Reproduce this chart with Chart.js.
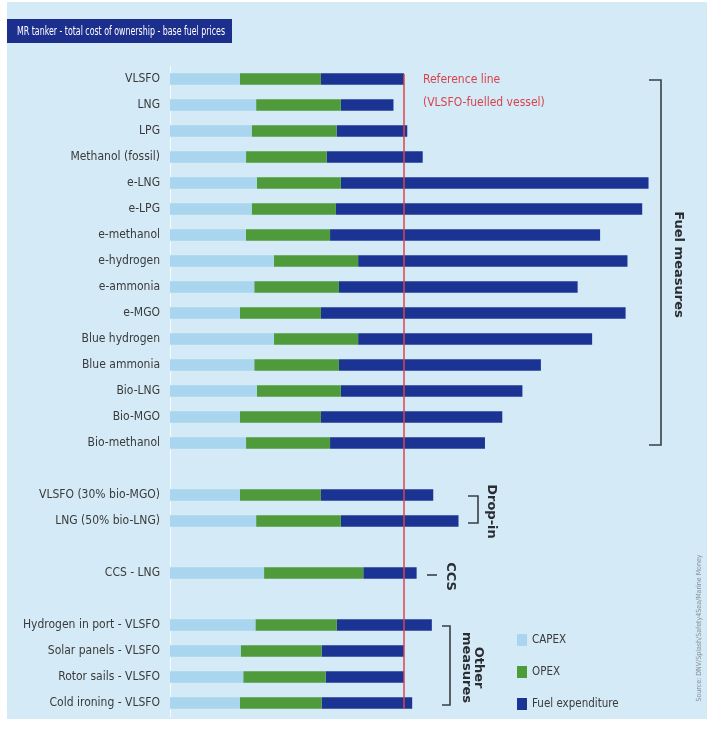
<!DOCTYPE html>
<html>
<head>
<meta charset="utf-8">
<script src="https://cdn.jsdelivr.net/npm/chart.js@4.4.1/dist/chart.umd.min.js"></script>
<style>
  html, body { margin: 0; padding: 0; background: #ffffff; overflow: hidden; }
  #wrap { width: 707px; height: 740px; position: relative; }
</style>
</head>
<body>
<div id="wrap"><canvas id="c"></canvas></div>
<script>
// ---- Data (relative cost, VLSFO-fuelled vessel = 100) ----
const categories = [
  'VLSFO', 'LNG', 'LPG', 'Methanol (fossil)', 'e-LNG', 'e-LPG', 'e-methanol',
  'e-hydrogen', 'e-ammonia', 'e-MGO', 'Blue hydrogen', 'Blue ammonia',
  'Bio-LNG', 'Bio-MGO', 'Bio-methanol', '',
  'VLSFO (30% bio-MGO)', 'LNG (50% bio-LNG)', '',
  'CCS - LNG', '',
  'Hydrogen in port - VLSFO', 'Solar panels - VLSFO', 'Rotor sails - VLSFO', 'Cold ironing - VLSFO'
];
const capex = [29.9, 36.8, 34.9, 32.5, 37.1, 34.9, 32.4, 44.4, 36.0, 29.9, 44.4, 36.0, 37.1, 29.9, 32.5, null,
               29.9, 36.8, null, 40.2, null, 36.5, 30.2, 31.3, 29.9];
const opex  = [34.6, 36.2, 36.3, 34.5, 35.9, 36.0, 36.0, 36.0, 36.2, 34.6, 36.0, 36.2, 35.9, 34.6, 35.9, null,
               34.6, 36.2, null, 42.4, null, 34.8, 34.6, 35.2, 34.9];
const fuel  = [35.5, 22.5, 30.2, 41.0, 131.5, 130.9, 115.4, 115.1, 102.0, 130.2, 100.0, 86.3, 77.6, 77.5, 66.2, null,
               48.0, 50.3, null, 22.8, null, 40.6, 35.2, 33.5, 38.7];
const seriesNames = ['CAPEX', 'OPEX', 'Fuel expenditure'];
const titleText = 'MR tanker - total cost of ownership - base fuel prices';
const refLines = ['Reference line', '(VLSFO-fuelled vessel)'];
const groups = [
  { lines: ['Fuel measures'], from: 0, to: 14 },
  { lines: ['Drop-in'], from: 16, to: 17 },
  { lines: ['CCS'], from: 19, to: 19 },
  { lines: ['Other', 'measures'], from: 21, to: 24 }
];
const sourceText = 'Source: DNV/Splash/Safety4Sea/Marine Money';

// ---- Styles ----
const COLORS = ['#a9d6ee', '#4f9b3b', '#1b3493'];
const BG = '#d4eaf6';
const NARROW = "'DejaVu Sans Condensed', 'Liberation Sans Narrow', sans-serif";
const XMAX = 210;

const refValue = capex[0] + opex[0] + fuel[0];

const decorPlugin = {
  id: 'decor',
  beforeDraw(chart) {
    const ctx = chart.ctx;
    ctx.save();
    ctx.fillStyle = '#ffffff';
    ctx.fillRect(0, 0, chart.width, chart.height);
    ctx.fillStyle = BG;
    ctx.fillRect(7, 2, chart.width - 7, 717);
    // title box
    ctx.fillStyle = '#1c2f8d';
    ctx.fillRect(7, 19, 225, 24);
    ctx.fillStyle = '#ffffff';
    ctx.font = '12px ' + NARROW;
    ctx.textBaseline = 'middle';
    ctx.textAlign = 'left';
    ctx.fillText(titleText, 17, 31.5, 208);
    ctx.restore();
  },
  afterDatasetsDraw(chart) {
    const ctx = chart.ctx;
    const xs = chart.scales.x, ys = chart.scales.y;
    ctx.save();
    // reference line
    const rx = xs.getPixelForValue(refValue);
    ctx.strokeStyle = '#d9444e';
    ctx.lineWidth = 1.5;
    ctx.beginPath();
    ctx.moveTo(rx, ys.getPixelForValue(0) - 5);
    ctx.lineTo(rx, ys.getPixelForValue(categories.length - 1) + 6);
    ctx.stroke();
    // reference label
    ctx.fillStyle = '#d8434c';
    ctx.font = '12px ' + NARROW;
    ctx.textAlign = 'left';
    ctx.textBaseline = 'middle';
    ctx.fillText(refLines[0], rx + 19, ys.getPixelForValue(0) + 1);
    ctx.fillText(refLines[1], rx + 19, ys.getPixelForValue(0) + 24);

    // group brackets
    const bracketCfg = [
      { x: 661, tick: 12, tx: 678 },
      { x: 478, tick: 10, tx: 491 },
      { x: 437, tick: 10, tx: 450, dash: true },
      { x: 450, tick: 8, tx: 472.5 }
    ];
    ctx.strokeStyle = '#3a3f45';
    ctx.lineWidth = 1.6;
    groups.forEach((g, i) => {
      const c = bracketCfg[i];
      const y1 = ys.getPixelForValue(g.from) + 1;
      const y2 = ys.getPixelForValue(g.to) + 2;
      ctx.beginPath();
      if (c.dash) {
        ctx.moveTo(c.x - c.tick, y1 + 1);
        ctx.lineTo(c.x, y1 + 1);
      } else {
        ctx.moveTo(c.x - c.tick, y1);
        ctx.lineTo(c.x, y1);
        ctx.lineTo(c.x, y2);
        ctx.lineTo(c.x - c.tick, y2);
      }
      ctx.stroke();
      ctx.save();
      ctx.translate(c.tx, (y1 + y2) / 2 + 2);
      ctx.rotate(Math.PI / 2);
      ctx.fillStyle = '#2a2d33';
      ctx.font = 'bold 13px "DejaVu Sans", sans-serif';
      ctx.textAlign = 'center';
      ctx.textBaseline = 'middle';
      const n = g.lines.length;
      g.lines.forEach((t, k) => ctx.fillText(t, 0, (k - (n - 1) / 2) * 11.5));
      ctx.restore();
    });

    // legend
    const ly = [640, 672, 704];
    ctx.font = '11.5px ' + NARROW;
    ctx.textAlign = 'left';
    ctx.textBaseline = 'middle';
    seriesNames.forEach((name, i) => {
      ctx.fillStyle = COLORS[i];
      ctx.fillRect(517, ly[i] - 6, 10, 12);
      ctx.fillStyle = '#3a3a3a';
      ctx.fillText(name, 532, ly[i]);
    });

    // source
    ctx.save();
    ctx.translate(699, 628);
    ctx.rotate(-Math.PI / 2);
    ctx.fillStyle = '#8a8f94';
    ctx.font = '7px ' + NARROW;
    ctx.textAlign = 'center';
    ctx.textBaseline = 'middle';
    ctx.fillText(sourceText, 0, 0, 210);
    ctx.restore();
    ctx.restore();
  }
};

new Chart(document.getElementById('c'), {
  type: 'bar',
  data: {
    labels: categories,
    datasets: [
      { label: seriesNames[0], data: capex, backgroundColor: COLORS[0] },
      { label: seriesNames[1], data: opex, backgroundColor: COLORS[1] },
      { label: seriesNames[2], data: fuel, backgroundColor: COLORS[2] }
    ]
  },
  options: {
    indexAxis: 'y',
    responsive: true,
    maintainAspectRatio: false,
    animation: false,
    devicePixelRatio: 1,
    barPercentage: 0.44,
    categoryPercentage: 1,
    layout: { padding: { top: 66, bottom: 24, left: 0, right: 45.6 } },
    plugins: { legend: { display: false }, tooltip: { enabled: false } },
    scales: {
      x: { stacked: true, min: 0, max: XMAX, display: false },
      y: {
        stacked: true,
        grid: { display: false, drawTicks: false },
        border: { display: true, color: 'rgba(255,255,255,0.75)', width: 1 },
        ticks: { color: '#3a3a3a', padding: 10, font: { family: NARROW, size: 12 }, autoSkip: false },
        afterFit(scale) { scale.width = 170; }
      }
    }
  },
  plugins: [decorPlugin]
});
</script>
</body>
</html>
